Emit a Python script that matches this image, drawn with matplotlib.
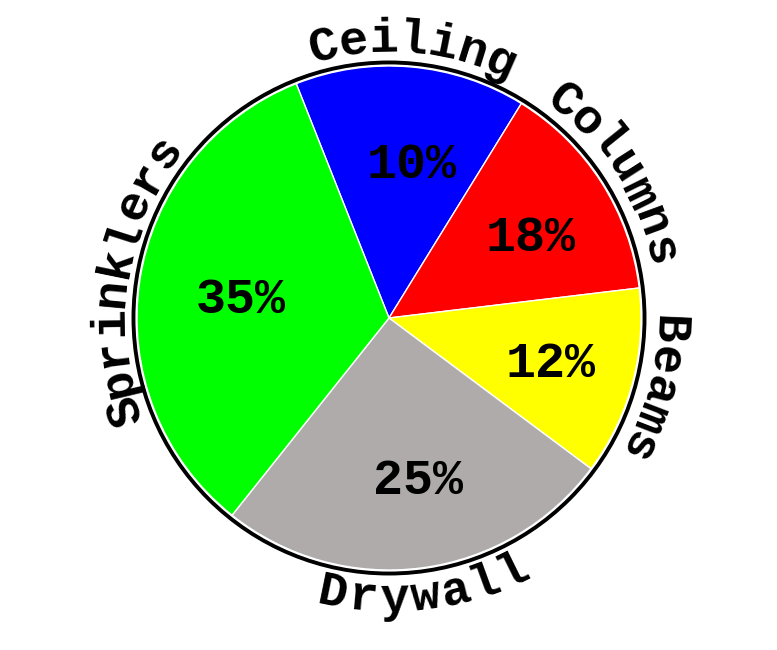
import numpy as np
import matplotlib.pyplot as plt

# -------------------------
# datos
# -------------------------
categories = ['Ceiling', 'Columns', 'Beams', 'Drywall', 'Sprinklers']
shares = [14.8, 14.3, 12.1, 25.5, 33.3]          # tamaño de cada porción
pct_labels = ['10%', '18%', '12%', '25%', '35%']  # texto mostrado dentro
colors = ['#0000ff', '#ff0000', '#ffff00', '#afabab', '#00ff00']

# -------------------------
# figura
# -------------------------
W, H = 777, 650
fig = plt.figure(figsize=(W / 100, H / 100), dpi=100)
ax = fig.add_axes([0, 0, 1, 1])

R_PX = 252.0      # radio del pastel en pixeles
cx, cy = 389, 318  # centro en pixeles

wedges, _ = ax.pie(shares, colors=colors, startangle=111.6, counterclock=False,
                   radius=1.0, wedgeprops=dict(edgecolor='white', linewidth=1.0))
ax.add_patch(plt.Circle((0, 0), 1.014, fill=False, edgecolor='black', lw=2.8))

ax.set_xlim(-cx / R_PX, (W - cx) / R_PX)
ax.set_ylim(-(H - cy) / R_PX, cy / R_PX)
ax.set_aspect('equal')
ax.axis('off')

font = dict(family='Liberation Mono', weight='bold', color='black')

# porcentajes dentro
for w, txt in zip(wedges, pct_labels):
    mid = np.deg2rad((w.theta1 + w.theta2) / 2)
    ax.annotate(txt, (0.63 * np.cos(mid), 0.63 * np.sin(mid)),
                xytext=(6, -4), textcoords='offset points',
                ha='center', va='center', fontsize=36, **font)

# etiquetas curvas alrededor
for w, name in zip(wedges, categories):
    mid = (w.theta1 + w.theta2) / 2
    n = len(name)
    flip = np.sin(np.deg2rad(mid)) < -0.5
    if flip:
        step, rb = 6.3, 294 / R_PX
        angs = mid - (n - 1) / 2 * step + np.arange(n) * step
        rots = angs + 90
    else:
        step, rb = 6.2, 266 / R_PX
        angs = mid + (n - 1) / 2 * step - np.arange(n) * step
        rots = angs - 90
    for ch, a, rot in zip(name, angs, rots):
        ar = np.deg2rad(a)
        ax.text(rb * np.cos(ar), rb * np.sin(ar), ch, rotation=rot,
                rotation_mode='anchor', ha='center', va='baseline',
                fontsize=35, **font)

fig.savefig('out.png', dpi=100)
